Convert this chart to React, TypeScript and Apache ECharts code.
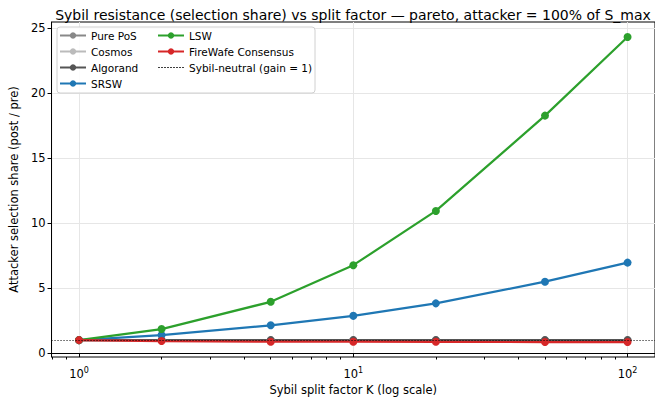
import React, { useEffect, useRef } from "react";
import * as echarts from "echarts";

const splitFactors = [1, 2, 5, 10, 20, 50, 100];
const purePoS = [1.0, 1.0, 1.0, 1.0, 1.0, 1.0, 1.0];
const cosmos = [1.0, 1.0, 1.0, 1.0, 1.0, 1.0, 1.0];
const algorand = [1.0, 1.0, 1.0, 1.0, 1.0, 1.0, 1.0];
const srsw = [1.0, 1.39, 2.14, 2.87, 3.83, 5.5, 6.97];
const lsw = [1.0, 1.85, 3.95, 6.77, 10.95, 18.29, 24.35];
const fireWafe = [1.0, 0.93, 0.88, 0.88, 0.87, 0.85, 0.85];
const neutralGain = 1;
const xMajorTicks = [1, 10, 100];
const xMinorTicks = [0.8, 0.9, 2, 3, 4, 5, 6, 7, 8, 9, 20, 30, 40, 50, 60, 70, 80, 90];
const yTicks = [0, 5, 10, 15, 20, 25];
const legendCol1 = ["Pure PoS", "Cosmos", "Algorand", "SRSW"];
const legendCol2 = ["LSW", "FireWafe Consensus", "Sybil-neutral (gain = 1)"];

const FONT = "DejaVu Sans";
const DOTTED_ICON =
  "path://M0,3.5h1.5v1h-1.5zM3,3.5h1.5v1h-1.5zM6,3.5h1.5v1h-1.5zM9,3.5h1.5v1h-1.5zM12,3.5h1.5v1h-1.5zM15,3.5h1.5v1h-1.5zM18,3.5h1.5v1h-1.5zM21,3.5h1.5v1h-1.5zM24,3.5h1.5v1h-1.5zM0,0h0.01v8h-0.01z";

export default function App() {
  const ref = useRef<HTMLDivElement>(null);
  useEffect(() => {
    if (!ref.current) return;
    const chart = echarts.init(ref.current, undefined, { renderer: "svg" });
    const mk = (name: string, data: number[], color: string) => ({
      name,
      type: "line",
      data: splitFactors.map((k, i) => [k, data[i]]),
      symbol: "circle",
      symbolSize: 8,
      itemStyle: { color },
      lineStyle: { color, width: 2.2 },
      xAxisIndex: 0,
      yAxisIndex: 0,
    });
    const xCommon = {
      type: "log",
      logBase: 10,
      min: 0.794,
      max: 125.9,
      splitLine: { show: false },
    };
    const legendCommon = {
      orient: "vertical",
      top: 29,
      itemWidth: 26,
      itemHeight: 8,
      itemGap: 3,
      padding: 0,
      textStyle: { fontFamily: FONT, fontSize: 10.5, color: "#000", lineHeight: 13 },
      z: 6,
    };
    chart.setOption({
      animation: false,
      backgroundColor: "#fff",
      textStyle: { fontFamily: FONT },
      title: {
        text: "Sybil resistance (selection share) vs split factor — pareto, attacker = 100% of S_max",
        left: 348,
        textAlign: "center",
        top: 3,
        textStyle: { fontFamily: FONT, fontSize: 14, fontWeight: "normal", color: "#000" },
      },
      grid: {
        left: 51,
        right: -3,
        top: 22,
        bottom: 45,
        show: true,
        borderColor: "#000",
        borderWidth: 1,
        backgroundColor: "transparent",
      },
      graphic: [
        {
          type: "rect",
          z: 5,
          shape: { x: 57, y: 27, width: 258, height: 66, r: 3 },
          style: { fill: "rgba(255,255,255,0.85)", stroke: "#d0d0d0", lineWidth: 1 },
        },
      ],
      legend: [
        { ...legendCommon, left: 59, data: legendCol1 },
        {
          ...legendCommon,
          left: 157,
          data: [legendCol2[0], legendCol2[1], { name: legendCol2[2], icon: DOTTED_ICON, itemStyle: { color: "#000" } }],
        },
      ],
      xAxis: [
        {
          ...xCommon,
          name: "Sybil split factor K (log scale)",
          nameLocation: "middle",
          nameGap: 27,
          nameTextStyle: { fontFamily: FONT, fontSize: 11.5, color: "#000" },
          axisLine: { show: true, lineStyle: { color: "#000" } },
          axisTick: { show: true, length: 4, lineStyle: { color: "#000" }, customValues: xMajorTicks },
          axisLabel: {
            customValues: xMajorTicks,
            margin: 9,
            formatter: (v: number) => `{b|10}{s|${Math.round(Math.log10(v))}}`,
            rich: {
              b: { fontFamily: FONT, fontSize: 11.5, color: "#000" },
              s: { fontFamily: FONT, fontSize: 8, color: "#000", verticalAlign: "top", padding: [0, 0, 7, 0] },
            },
          },
          splitLine: { show: false },
        },
        {
          ...xCommon,
          gridIndex: 0,
          position: "bottom",
          axisLine: { show: false },
          axisTick: { show: true, length: 2.5, lineStyle: { color: "#000" }, customValues: xMinorTicks },
          axisLabel: { show: false },
          splitLine: { show: false },
        },
        {
          ...xCommon,
          gridIndex: 0,
          position: "bottom",
          axisLine: { show: false },
          axisTick: { show: false },
          axisLabel: { show: false },
          splitLine: { show: true, lineStyle: { color: "#e6e6e6", width: 1 } },
        },
      ],
      yAxis: {
        type: "value",
        min: -0.3,
        max: 25.5,
        name: "Attacker selection share (post / pre)",
        nameLocation: "middle",
        nameGap: 30,
        nameTextStyle: { fontFamily: FONT, fontSize: 11.5, color: "#000" },
        axisLine: { show: true, lineStyle: { color: "#000" } },
        axisTick: { show: true, length: 4, lineStyle: { color: "#000" }, customValues: yTicks },
        axisLabel: {
          customValues: yTicks,
          fontFamily: FONT,
          fontSize: 11.5,
          color: "#000",
          margin: 6,
        },
        splitLine: { show: true, lineStyle: { color: "#e6e6e6", width: 1 } },
      },
      series: [
        {
          name: "Sybil-neutral (gain = 1)",
          type: "line",
          data: [],
          symbol: "none",
          itemStyle: { color: "#000" },
          lineStyle: { color: "#000", width: 1, type: [1, 2] },
          markLine: {
            silent: true,
            symbol: ["none", "none"],
            label: { show: false },
            lineStyle: { color: "#000", width: 1, type: [1, 2] },
            data: [{ yAxis: neutralGain }],
          },
        },
        mk("Pure PoS", purePoS, "#888888"),
        mk("Cosmos", cosmos, "#bbbbbb"),
        mk("Algorand", algorand, "#555555"),
        mk("SRSW", srsw, "#1f77b4"),
        mk("LSW", lsw, "#2ca02c"),
        mk("FireWafe Consensus", fireWafe, "#d62728"),
      ],
    });
    return () => chart.dispose();
  }, []);
  return <div ref={ref} style={{ width: 655, height: 402, position: "absolute", left: 0, top: 0 }} />;
}
